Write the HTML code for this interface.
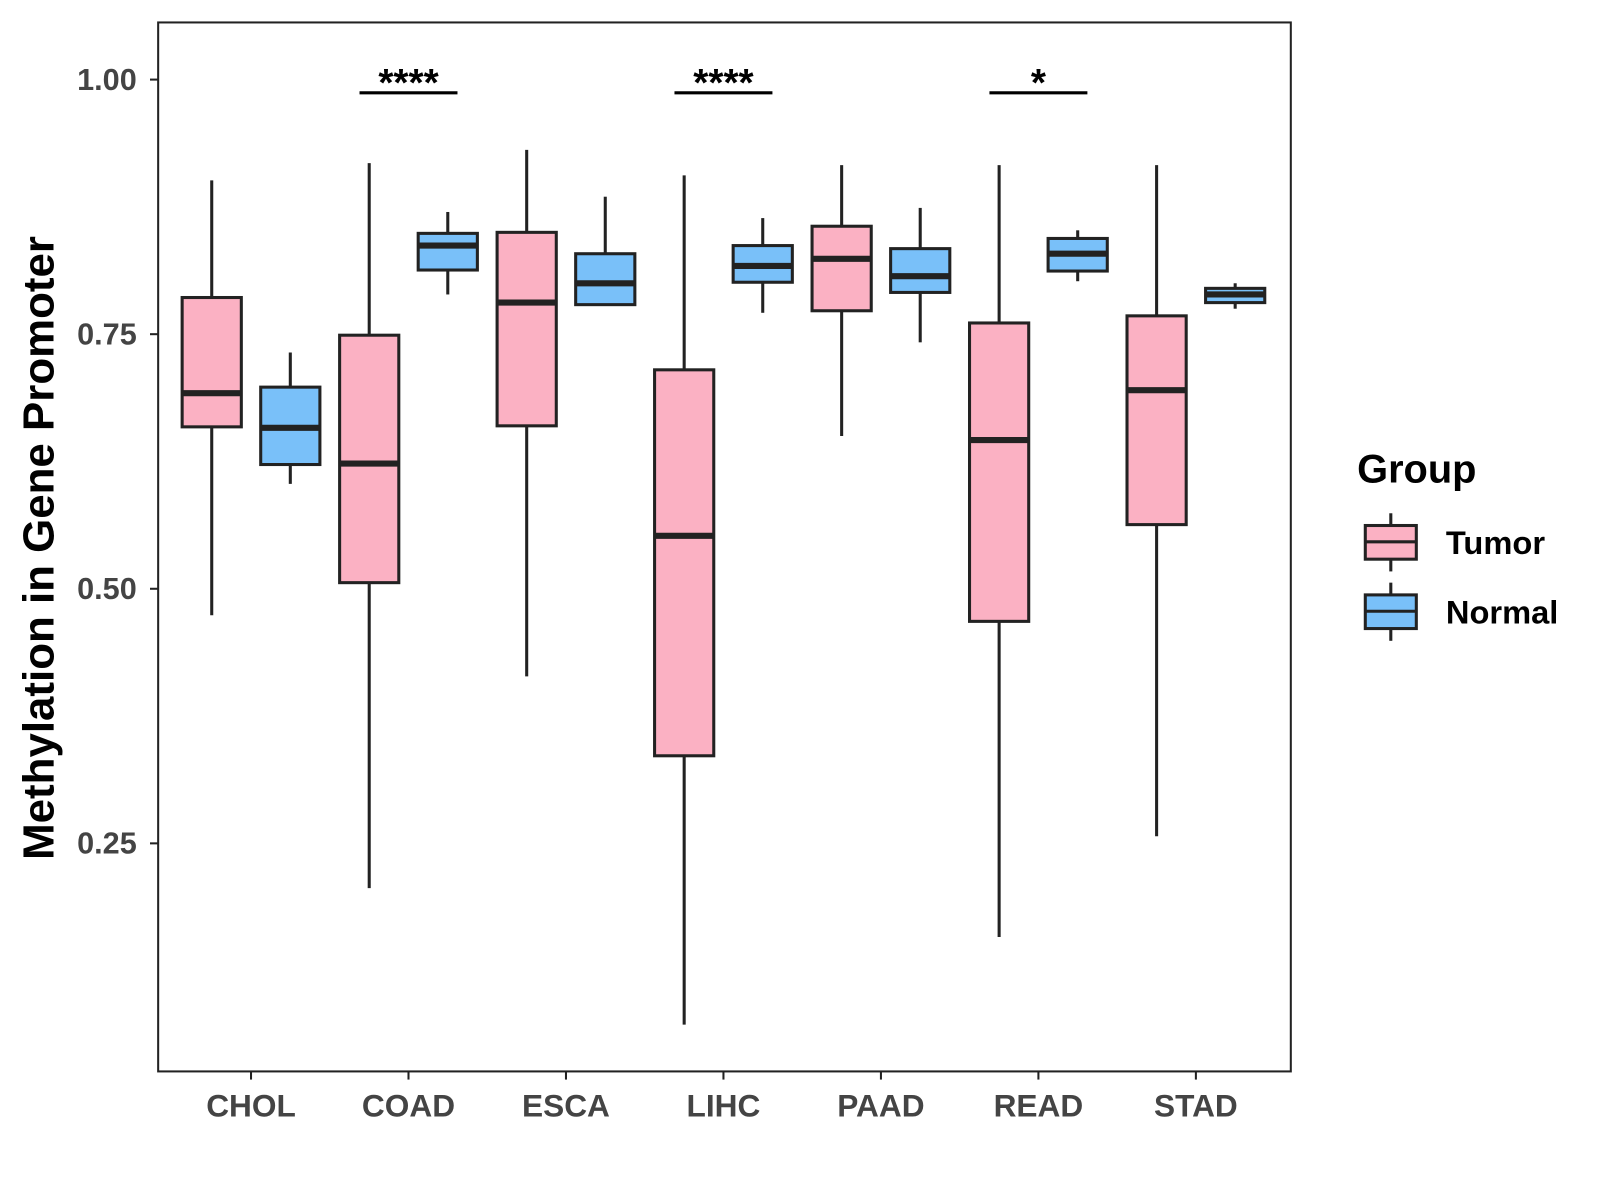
<!DOCTYPE html>
<html><head><meta charset="utf-8"><style>
html,body{margin:0;padding:0;background:#fff;}
svg{display:block;font-family:"Liberation Sans",Arial,sans-serif;}
</style></head><body>
<svg id="chart" width="1600" height="1200" viewBox="0 0 1600 1200">
<g transform="scale(1.0204)">
<rect x="155" y="22" width="1110" height="1028" fill="#fff" stroke="#222" stroke-width="2"/>
<g id="yaxis"></g>
<g id="xaxis"></g>
<g id="boxes"></g>
<g id="sig"></g>
<text x="38" y="537" transform="rotate(-90 38 537)" text-anchor="middle" dominant-baseline="central" font-size="43" font-weight="bold" fill="#000">Methylation in Gene Promoter</text>
<g>
<text x="1330" y="473" font-size="39" font-weight="bold">Group</text>
<g>
<line x1="1363" y1="503" x2="1363" y2="560" stroke="#222" stroke-width="3"/>
<rect x="1338" y="515" width="50" height="33" fill="#fbb1c3" stroke="#222" stroke-width="3"/>
<line x1="1338" y1="531" x2="1388" y2="531" stroke="#222" stroke-width="3"/>
<text x="1417" y="543" font-size="32" font-weight="bold">Tumor</text></g>
<g>
<line x1="1363" y1="571" x2="1363" y2="628" stroke="#222" stroke-width="3"/>
<rect x="1338" y="583" width="50" height="33" fill="#79c0f9" stroke="#222" stroke-width="3"/>
<line x1="1338" y1="599" x2="1388" y2="599" stroke="#222" stroke-width="3"/>
<text x="1417" y="611" font-size="32" font-weight="bold">Normal</text></g>
</g>
</g>
</svg>
<script>
const categories=["CHOL","COAD","ESCA","LIHC","PAAD","READ","STAD"];
// [low, q1, median, q3, high]
const tumorStats=[[0.474,0.659,0.692,0.786,0.901],[0.206,0.506,0.623,0.749,0.918],[0.414,0.660,0.781,0.850,0.931],[0.072,0.336,0.552,0.715,0.906],[0.650,0.773,0.824,0.856,0.916],[0.158,0.468,0.646,0.761,0.916],[0.257,0.563,0.695,0.768,0.916]];
const normalStats=[[0.603,0.622,0.658,0.698,0.732],[0.789,0.813,0.837,0.849,0.870],[0.779,0.779,0.800,0.829,0.885],[0.771,0.801,0.817,0.837,0.864],[0.742,0.791,0.807,0.834,0.874],[0.802,0.812,0.829,0.844,0.852],[0.775,0.781,0.789,0.795,0.800]];
const yTicks=[0.25,0.50,0.75,1.00];
const yTickLabels=["0.25","0.50","0.75","1.00"];
const sigCategories=["COAD","LIHC","READ"];
const sigLabels=["****","****","*"];
const sigY=[0.987,0.987,0.987];

const NS="http://www.w3.org/2000/svg";
function y(v){return 78+(1-v)*998;}
function x(i){return 246+i*154.33;}
function mk(tag,attrs,parent){const e=document.createElementNS(NS,tag);for(const k in attrs)e.setAttribute(k,attrs[k]);parent.appendChild(e);return e;}
const yg=document.getElementById('yaxis'),xg=document.getElementById('xaxis'),bg=document.getElementById('boxes'),sg=document.getElementById('sig');
yTicks.forEach((t,i)=>{
  const l=mk('line',{x1:147,x2:155,y1:y(t),y2:y(t),stroke:'#222','stroke-width':2},yg);
  
  
  const tx=mk('text',{x:134,y:y(t)+10,'text-anchor':'end','font-size':30,'font-weight':'bold',fill:'#444'},yg);
  tx.textContent=yTickLabels[i];
  
  
});
categories.forEach((c,i)=>{
  const l=mk('line',{x1:x(i),x2:x(i),y1:1050,y2:1058,stroke:'#222','stroke-width':2},xg);
  
  
  const tx=mk('text',{x:x(i),y:1094,'text-anchor':'middle','font-size':31,'font-weight':'bold',fill:'#444'},xg);
  tx.textContent=c;
  
  
});
function box(s,cx,fill,name){
  const g=mk('g',{},bg);
  
  
  const w=58;
  mk('line',{x1:cx,x2:cx,y1:y(s[4]),y2:y(s[3]),stroke:'#222','stroke-width':3},g);
  mk('line',{x1:cx,x2:cx,y1:y(s[1]),y2:y(s[0]),stroke:'#222','stroke-width':3},g);
  mk('rect',{x:cx-w/2,y:y(s[3]),width:w,height:Math.max(1,y(s[1])-y(s[3])),fill:fill,stroke:'#222','stroke-width':3},g);
  mk('line',{x1:cx-w/2,x2:cx+w/2,y1:y(s[2]),y2:y(s[2]),stroke:'#222','stroke-width':6},g);
}
categories.forEach((c,i)=>{
  box(tumorStats[i],x(i)-38.5,'#fbb1c3','box-tumor-'+c.toLowerCase());
  box(normalStats[i],x(i)+38.5,'#79c0f9','box-normal-'+c.toLowerCase());
});
sigCategories.forEach((c,k)=>{
  const i=categories.indexOf(c);
  const l=mk('line',{x1:x(i)-48,x2:x(i)+48,y1:y(sigY[k]),y2:y(sigY[k]),stroke:'#000','stroke-width':3},sg);
  
  
  const t=mk('text',{x:x(i),y:y(sigY[k])+3,'text-anchor':'middle','font-size':38,'font-weight':'bold',fill:'#000'},sg);
  t.textContent=sigLabels[k];
  
  
});
</script>
</body></html>
